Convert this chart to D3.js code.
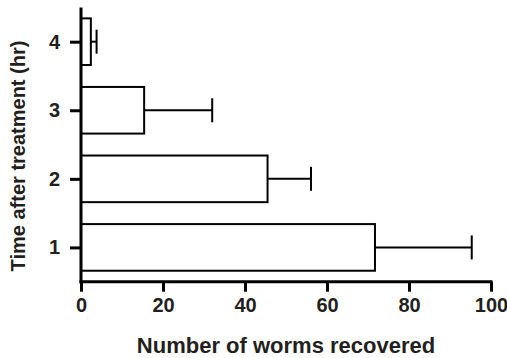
<!DOCTYPE html>
<html>
<head>
<meta charset="utf-8">
<script src="https://cdn.jsdelivr.net/npm/d3@7"></script>
<style>
  body { margin: 0; background: #fff; }
  text { font-family: Arial, "Liberation Sans", sans-serif; font-weight: bold; fill: #231f20; }
</style>
</head>
<body>
<svg id="svg" width="507" height="358"></svg>
<script>
const WIDTH = 507
const HEIGHT = 358

// data
const hours = [1, 2, 3, 4]
const worms = [71.7, 45.5, 15.4, 2.4]
const errors = [23.6, 10.6, 16.6, 1.4]
const xTicks = [0, 20, 40, 60, 80, 100]

const x = d3.scaleLinear().domain([0, 100]).range([81, 491])
const y = d3.scaleLinear().domain([0.5, 4.5]).range([281.7, 7.4])
const HALF = 0.34

const SVG = d3.select('#svg')

const rows = hours.map((h, i) => ({ h, v: worms[i], e: errors[i] }))

// bars
SVG.append('g')
  .selectAll('rect')
  .data(rows)
  .enter()
  .append('rect')
  .attr('x', x(0))
  .attr('y', d => y(d.h + HALF))
  .attr('width', d => x(d.v) - x(0))
  .attr('height', d => y(d.h - HALF) - y(d.h + HALF))
  .attr('fill', '#fff')
  .attr('stroke', '#000')
  .attr('stroke-width', 2)

// error bars
const ERR = SVG.append('g').attr('stroke', '#000').attr('stroke-width', 2)
ERR.selectAll('.stem')
  .data(rows)
  .enter()
  .append('line')
  .attr('x1', d => x(d.v))
  .attr('x2', d => x(d.v + d.e))
  .attr('y1', d => y(d.h))
  .attr('y2', d => y(d.h))
ERR.selectAll('.cap')
  .data(rows)
  .enter()
  .append('line')
  .attr('x1', d => x(d.v + d.e))
  .attr('x2', d => x(d.v + d.e))
  .attr('y1', d => y(d.h) - 12)
  .attr('y2', d => y(d.h) + 12)

// x axis
const X_AXIS = SVG.append('g')
  .attr('transform', `translate(0, ${y(0.5)})`)
  .call(d3.axisBottom(x).tickValues(xTicks).tickSize(10).tickPadding(6).tickSizeOuter(0))
X_AXIS.select('.domain').attr('stroke-width', 3).attr('d', `M${x(0) - 1.5},0H${x(100) + 1.5}`)
X_AXIS.selectAll('.tick line').attr('stroke-width', 3)
X_AXIS.selectAll('.tick text').style('font-size', '20px').attr('fill', '#231f20')

// y axis
const Y_AXIS = SVG.append('g')
  .attr('transform', `translate(${x(0)}, 0)`)
  .call(d3.axisLeft(y).tickValues(hours).tickFormat(d3.format('d')).tickSize(11).tickPadding(10).tickSizeOuter(0))
Y_AXIS.select('.domain').attr('stroke-width', 3).attr('d', `M0,${y(4.5)}V${y(0.5) + 1.5}`)
Y_AXIS.selectAll('.tick line').attr('stroke-width', 3)
Y_AXIS.selectAll('.tick text').style('font-size', '20px').attr('fill', '#231f20')

// titles
SVG.append('text')
  .attr('x', (x(0) + x(100)) / 2)
  .attr('y', 353)
  .attr('text-anchor', 'middle')
  .style('font-size', '22px')
  .text('Number of worms recovered')

SVG.append('text')
  .attr('transform', 'translate(25, 156) rotate(-90)')
  .attr('text-anchor', 'middle')
  .style('font-size', '20px')
  .text('Time after treatment (hr)')
</script>
</body>
</html>
